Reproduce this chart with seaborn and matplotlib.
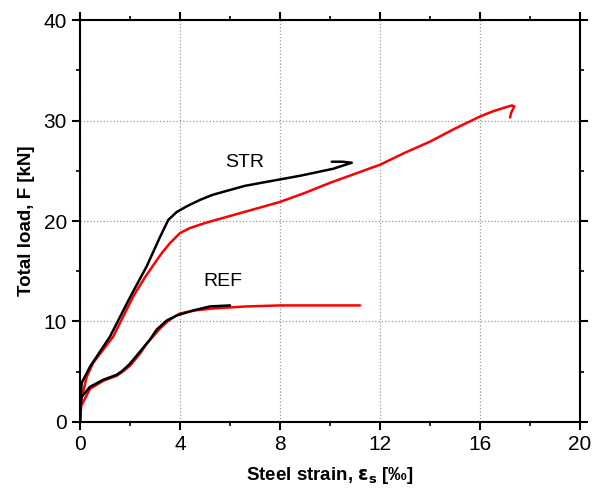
import matplotlib
matplotlib.use("Agg")
import matplotlib.pyplot as plt
import seaborn as sns
import pandas as pd

str_black_x = [0, 0.03, 0.07, 0.4, 1.2, 2.0, 2.67, 3.2, 3.53, 3.87, 4.3, 4.8, 5.3, 5.87, 6.6, 7.47, 8.8, 10.13, 10.87, 10.5, 10.07]
str_black_y = [0, 2.5, 3.9, 5.5, 8.5, 12.4, 15.5, 18.4, 20.1, 20.9, 21.5, 22.1, 22.6, 23.0, 23.5, 23.9, 24.5, 25.2, 25.8, 25.9, 25.9]
str_red_x = [0, 0.05, 0.27, 0.53, 1.33, 2.13, 2.6, 3.07, 3.3, 3.6, 3.8, 4.0, 4.4, 5.0, 6.0, 7.0, 8.0, 9.0, 10.0, 11.0, 12.0,
             13.0, 14.0, 15.0, 16.0, 16.5, 17.0, 17.27, 17.37, 17.25, 17.2]
str_red_y = [0, 2.2, 4.5, 5.9, 8.5, 12.5, 14.4, 16.1, 16.9, 17.8, 18.3, 18.8, 19.3, 19.8, 20.5, 21.2, 21.9, 22.8, 23.8, 24.7, 25.6,
             26.8, 27.9, 29.2, 30.4, 30.9, 31.3, 31.5, 31.4, 30.8, 30.3]
ref_black_x = [0, 0.03, 0.07, 0.4, 0.93, 1.2, 1.47, 1.7, 2.0, 2.4, 2.8, 3.07, 3.47, 3.87, 4.53, 5.2, 6.0]
ref_black_y = [0, 1.8, 2.5, 3.5, 4.2, 4.45, 4.7, 5.1, 5.8, 7.0, 8.2, 9.2, 10.1, 10.6, 11.1, 11.5, 11.6]
ref_red_x = [0, 0.05, 0.4, 0.93, 1.2, 1.47, 1.7, 2.0, 2.4, 2.67, 3.2, 3.5, 3.73, 4.0, 4.6, 5.33, 6.67, 8.0, 9.5, 11.2]
ref_red_y = [0, 1.6, 3.3, 4.1, 4.35, 4.6, 5.0, 5.6, 6.8, 7.8, 9.3, 10.0, 10.4, 10.8, 11.1, 11.3, 11.5, 11.6, 11.6, 11.6]

x_ticks = [0, 4, 8, 12, 16, 20]
y_ticks = [0, 10, 20, 30, 40]

sns.set_style("white")
plt.rcParams['font.family'] = ['Liberation Sans', 'DejaVu Sans']
plt.rcParams.update({'text.color': 'black', 'axes.labelcolor': 'black',
                     'xtick.color': 'black', 'ytick.color': 'black'})

fig = plt.figure(figsize=(6, 4.92), dpi=100)
ax = fig.add_axes([0.1333, 0.1423, 0.8334, 0.817])

curves = [(str_red_x, str_red_y, 'red'), (str_black_x, str_black_y, 'black'),
          (ref_red_x, ref_red_y, 'red'), (ref_black_x, ref_black_y, 'black')]
for xs, ys, c in curves:
    df = pd.DataFrame({'strain': xs, 'load': ys})
    sns.lineplot(data=df, x='strain', y='load', sort=False, estimator=None,
                 color=c, lw=1.8, ax=ax)

ax.text(6.6, 25.8, 'STR', fontsize=14, ha='center', va='center')
ax.text(5.7, 14.0, 'REF', fontsize=14, ha='center', va='center')

ax.set_xlim(0, 20)
ax.set_ylim(0, 40)
ax.set_xticks(x_ticks)
ax.set_yticks(y_ticks)
ax.set_xticks([2, 6, 10, 14, 18], minor=True)
ax.set_yticks([5, 15, 25, 35], minor=True)
ax.grid(True, which='major', ls=':', color='#999999', lw=0.9)
for s in ax.spines.values():
    s.set_color('black')
    s.set_linewidth(1.5)
ax.tick_params(which='major', direction='out', length=6, width=1.5, labelsize=15,
               top=True, right=True, bottom=True, left=True)
ax.tick_params(which='minor', direction='out', length=3, width=1.2,
               top=True, right=True, bottom=True, left=True)

ax.set_xlabel(r'Steel strain, $\mathbf{\varepsilon_s}$ [‰]', fontsize=13.5, fontweight='bold', labelpad=8)
ax.set_ylabel('Total load, F [kN]', fontsize=13.5, fontweight='bold', labelpad=6)

fig.savefig('out.png', dpi=100)
